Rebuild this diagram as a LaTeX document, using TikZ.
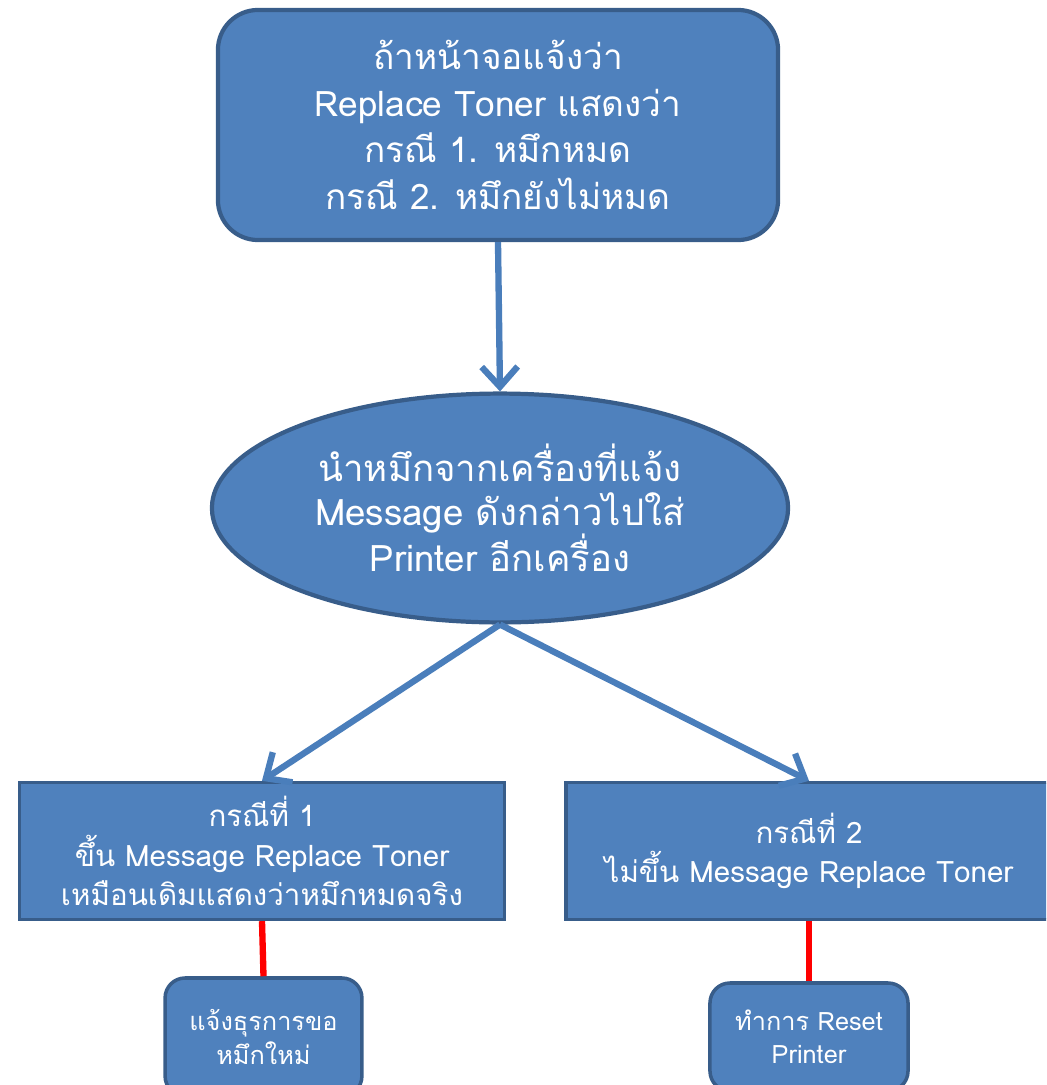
\documentclass[tikz,border=0pt]{standalone}
\usepackage{fontspec}
\setmainfont[Script=Thai]{Loma}
\usetikzlibrary{shapes.geometric,arrows.meta}
\definecolor{boxfill}{HTML}{4F81BD}
\definecolor{boxline}{HTML}{385D8A}
\definecolor{arrowblue}{HTML}{4A7EBB}
\tikzset{
  flowbox/.style={draw=boxline, fill=boxfill, text=white, align=center, inner sep=0pt},
  flowarrow/.style={draw=arrowblue, line width=4.5pt, -{Straight Barb[length=5mm,width=9mm]}},
  redline/.style={draw=red, line width=4.5pt}
}
\begin{document}
\begin{tikzpicture}[x=0.025cm, y=-0.025cm]
\useasboundingbox (0,0) rectangle (1046,1085);
\begin{scope}
\clip (0,0) rectangle (1046,1085);
% top question box
\node[flowbox, line width=3pt, rounded corners=1cm, minimum width=14cm, minimum height=5.75cm,
  font=\fontsize{25}{33}\selectfont] (top) at (498,125)
  {ถ้าหน้าจอแจ้งว่า\\Replace Toner แสดงว่า\\กรณี 1. หมึกหมด\\ กรณี 2. หมึกยังไม่หมด};
% swap toner into another printer
\node[flowbox, ellipse, line width=3pt, minimum width=14.4cm, minimum height=5.72cm,
  font=\fontsize{26}{31}\selectfont] (swap) at (500,508)
  {นำหมึกจากเครื่องที่แจ้ง\\Message ดังกล่าวไปใส่\\Printer อีกเครื่อง};
% the two cases
\node[flowbox, line width=2.5pt, minimum width=12.12cm, minimum height=3.42cm,
  font=\fontsize{21}{28}\selectfont] (caseA) at (262,851)
  {กรณีที่ 1\\ขึ้น Message Replace Toner\\เหมือนเดิมแสดงว่าหมึกหมดจริง};
\node[flowbox, line width=2.5pt, minimum width=12.15cm, minimum height=3.42cm,
  font=\fontsize{21}{28}\selectfont] (caseB) at (809,851)
  {กรณีที่ 2\\ไม่ขึ้น Message Replace Toner};
% what to do
\node[flowbox, line width=2.5pt, rounded corners=0.5cm, minimum width=4.92cm, minimum height=2.95cm,
  font=\fontsize{18}{23.5}\selectfont] (orderA) at (263.5,1037)
  {แจ้งธุรการขอ\\หมึกใหม่};
\node[flowbox, line width=2.5pt, rounded corners=0.5cm, minimum width=4.95cm, minimum height=2.7cm,
  font=\fontsize{18}{23.5}\selectfont] (resetB) at (809,1037)
  {ทำการ Reset\\Printer};
\end{scope}
\draw[flowarrow] (top.south) -- (swap.north);
\draw[flowarrow] (swap.south) -- (caseA.north);
\draw[flowarrow] (swap.south) -- (caseB.north);
\draw[redline] (caseA.south) -- (orderA.north);
\draw[redline] (caseB.south) -- (resetB.north);
\end{tikzpicture}
\end{document}
